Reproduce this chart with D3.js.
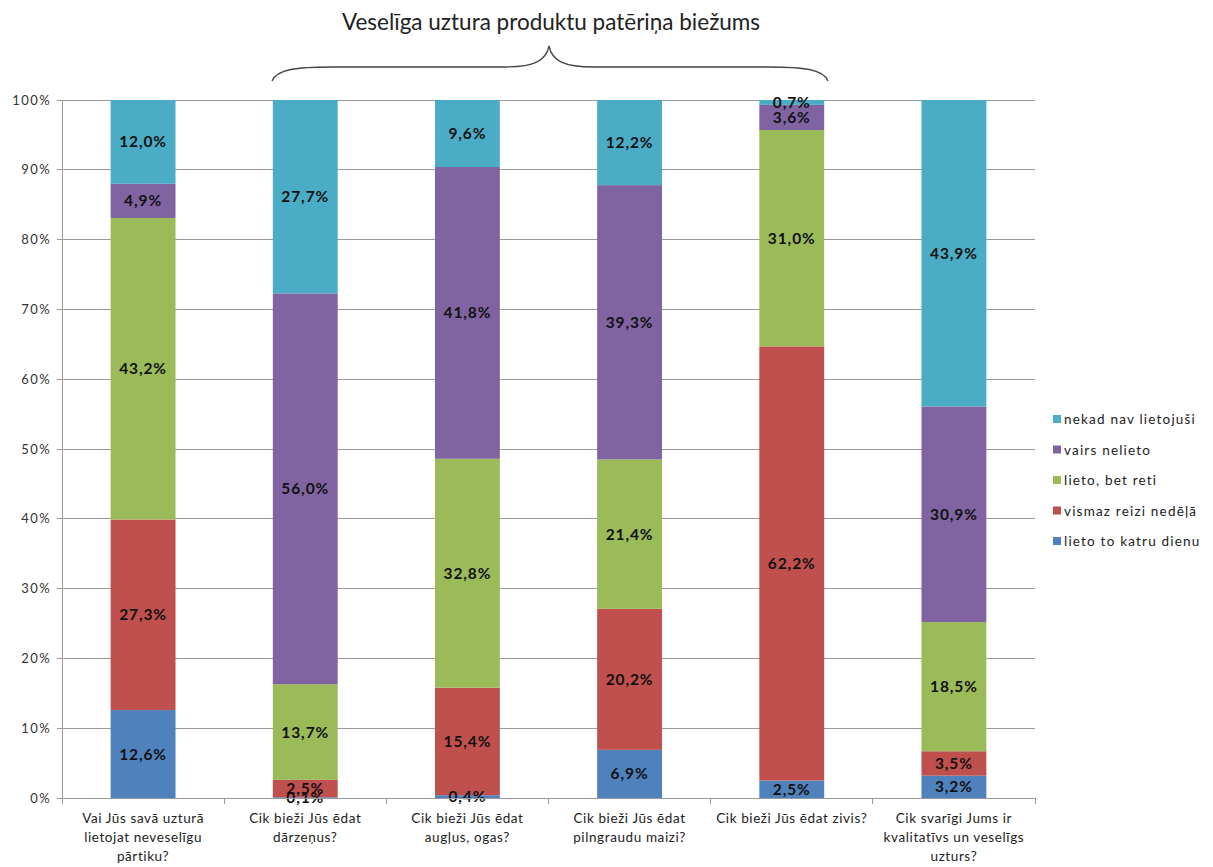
<!DOCTYPE html>
<html><head><meta charset="utf-8">
<script src="https://cdn.jsdelivr.net/npm/d3@7/dist/d3.min.js"></script>
<style>body{margin:0;background:#fff;} text{font-family:Lato,"Open Sans",sans-serif;}</style>
</head><body><svg id="c" width="1213" height="867"></svg>
<script>
const categories = [
  ["Vai Jūs savā uzturā","lietojat neveselīgu","pārtiku?"],
  ["Cik bieži Jūs ēdat","dārzeņus?"],
  ["Cik bieži Jūs ēdat","augļus, ogas?"],
  ["Cik bieži Jūs ēdat","pilngraudu maizi?"],
  ["Cik bieži Jūs ēdat zivis?"],
  ["Cik svarīgi Jums ir","kvalitatīvs un veselīgs","uzturs?"]
];
const seriesNames = ["lieto to katru dienu","vismaz reizi nedēļā","lieto, bet reti","vairs nelieto","nekad nav lietojuši"];
const daily   = [12.6, 0.1, 0.4, 6.9, 2.5, 3.2];
const weekly  = [27.3, 2.5, 15.4, 20.2, 62.2, 3.5];
const rare    = [43.2, 13.7, 32.8, 21.4, 31.0, 18.5];
const stopped = [4.9, 56.0, 41.8, 39.3, 3.6, 30.9];
const never   = [12.0, 27.7, 9.6, 12.2, 0.7, 43.9];
const yTicks = [0,10,20,30,40,50,60,70,80,90,100];
const title = "Veselīga uztura produktu patēriņa biežums";
const colors = ["#4F81BD","#C0504D","#9BBB59","#8064A2","#4BACC6"];

const series = [daily, weekly, rare, stopped, never];
const svg = d3.select("#c");
const x = d3.scaleBand().domain(d3.range(categories.length)).range([62,1035]).paddingInner(0.6).paddingOuter(0.3);
const y = d3.scaleLinear().domain([0,100]).range([798,100]);

// gridlines
svg.append("g").selectAll("line").data(yTicks).join("line")
  .attr("x1",57).attr("x2",1035).attr("y1",d=>y(d)).attr("y2",d=>y(d))
  .attr("stroke","#9a9a9a").attr("stroke-width",1).attr("shape-rendering","crispEdges");
svg.append("line").attr("x1",62).attr("x2",62).attr("y1",100).attr("y2",798)
  .attr("stroke","#9a9a9a").attr("shape-rendering","crispEdges");
svg.append("g").selectAll("text").data(yTicks).join("text")
  .attr("x",51).attr("y",d=>y(d)+4.5).attr("text-anchor","end")
  .attr("font-size",13).attr("letter-spacing",1.4).attr("fill","#333").text(d=>d+"%");

// stacks
const rows = categories.map((c,i)=>{const o={i}; series.forEach((s,k)=>o["s"+k]=s[i]); return o;});
const stack = d3.stack().keys(series.map((s,k)=>"s"+k))(rows);
const g = svg.append("g");
stack.forEach((layer,k)=>{
  g.append("g").selectAll("rect").data(layer).join("rect")
    .attr("x",d=>x(d.data.i)).attr("width",x.bandwidth())
    .attr("y",d=>y(d[1])).attr("height",d=>y(d[0])-y(d[1]))
    .attr("fill",colors[k]);
});
// labels
stack.forEach((layer,k)=>{
  g.append("g").selectAll("text").data(layer).join("text")
    .attr("x",d=>x(d.data.i)+x.bandwidth()/2)
    .attr("y",d=>y((d[0]+d[1])/2)+5.5)
    .attr("text-anchor","middle").attr("font-size",15.5).attr("font-weight","bold")
    .attr("letter-spacing",0.9)
    .attr("fill","#111")
    .text(d=>(d[1]-d[0]).toFixed(1).replace(".",",")+"%");
});

// x axis
svg.append("line").attr("x1",62).attr("x2",1035).attr("y1",798).attr("y2",798)
  .attr("stroke","#9a9a9a").attr("shape-rendering","crispEdges");
svg.append("g").selectAll("line").data(d3.range(categories.length+1)).join("line")
  .attr("x1",d=>62+d*(973/categories.length)).attr("x2",d=>62+d*(973/categories.length))
  .attr("y1",798).attr("y2",804).attr("stroke","#9a9a9a").attr("shape-rendering","crispEdges");
const cl = svg.append("g");
categories.forEach((lines,i)=>{
  const t = cl.append("text").attr("text-anchor","middle").attr("font-size",13.5)
    .attr("letter-spacing",0.6).attr("fill","#222");
  lines.forEach((ln,j)=>t.append("tspan").attr("x",x(i)+x.bandwidth()/2).attr("y",823+j*19).text(ln));
});

// legend
const lg = svg.append("g");
const legendOrder = [4,3,2,1,0];
legendOrder.forEach((k,j)=>{
  const yy = 420 + j*30.5;
  lg.append("rect").attr("x",1053).attr("y",yy-5).attr("width",8).attr("height",8).attr("fill",colors[k]);
  lg.append("text").attr("x",1064).attr("y",yy+4).attr("font-size",13.5).attr("letter-spacing",1.2)
    .attr("fill","#222").text(seriesNames[k]);
});

// title and brace
svg.append("text").attr("x",551).attr("y",30).attr("text-anchor","middle").attr("font-size",22.5).attr("fill","#222").text(title);
const bx1 = 272, bx2 = 828, bm = 549, by = 81, hy = 67, ty = 46;
svg.append("path")
  .attr("d",`M${bx1},${by} C${bx1+5},${hy+2} ${bx1+25},${hy} ${bx1+60},${hy} L${bm-45},${hy} C${bm-15},${hy} ${bm-3},${hy-6} ${bm},${ty} C${bm+3},${hy-6} ${bm+15},${hy} ${bm+45},${hy} L${bx2-60},${hy} C${bx2-25},${hy} ${bx2-5},${hy+2} ${bx2},${by}`)
  .attr("fill","none").attr("stroke","#444").attr("stroke-width",1.3);
</script></body></html>
